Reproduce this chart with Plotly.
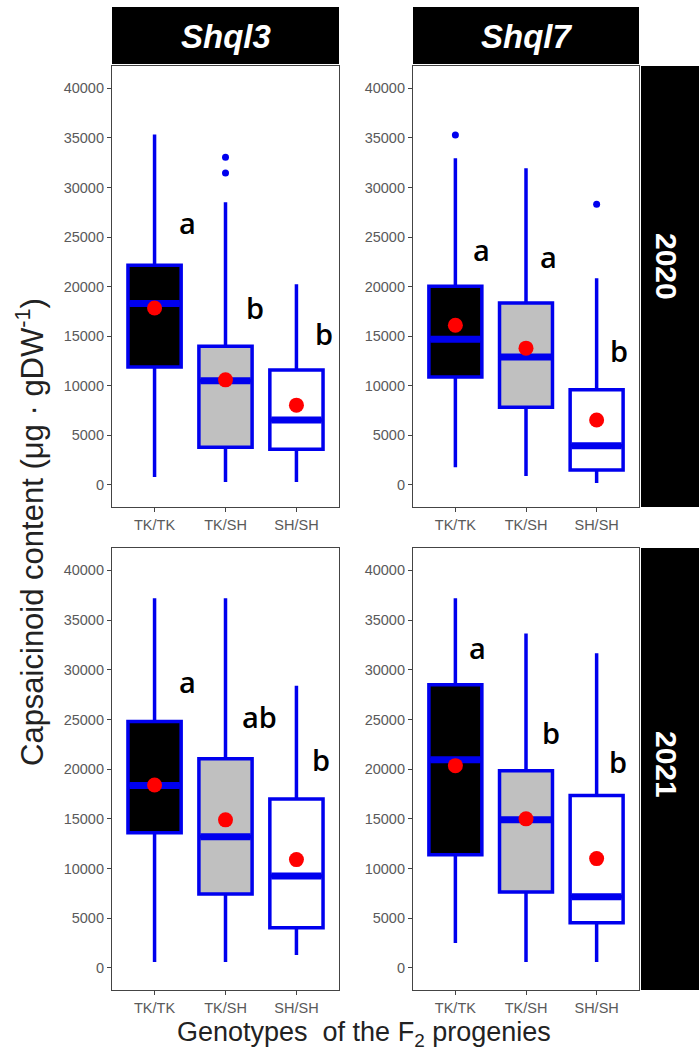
import plotly.graph_objects as go

# ---------------- data ----------------
categories = ["TK/TK", "TK/SH", "SH/SH"]
genes = ["Shql3", "Shql7"]
years = ["2020", "2021"]

# Shql3, 2020
shql3_2020_lower = [800, 300, 300]
shql3_2020_q1 = [11900, 3800, 3600]
shql3_2020_median = [18300, 10500, 6550]
shql3_2020_q3 = [22150, 14000, 11600]
shql3_2020_upper = [35350, 28500, 20250]
shql3_2020_mean = [17850, 10600, 8050]
shql3_2020_outliers = {"TK/SH": [33050, 31450]}
shql3_2020_letters = ["a", "b", "b"]
shql3_2020_letter_y = [26500, 17900, 15300]

# Shql7, 2020
shql7_2020_lower = [1800, 900, 200]
shql7_2020_q1 = [10900, 7850, 1500]
shql7_2020_median = [14700, 12900, 3950]
shql7_2020_q3 = [20050, 18350, 9600]
shql7_2020_upper = [32950, 31950, 20850]
shql7_2020_mean = [16100, 13800, 6550]
shql7_2020_outliers = {"TK/TK": [35300], "SH/SH": [28300]}
shql7_2020_letters = ["a", "a", "b"]
shql7_2020_letter_y = [23700, 23000, 13600]

# Shql3, 2021
shql3_2021_lower = [600, 600, 1300]
shql3_2021_q1 = [13600, 7450, 4050]
shql3_2021_median = [18350, 13200, 9250]
shql3_2021_q3 = [24800, 21050, 17000]
shql3_2021_upper = [37200, 37200, 28400]
shql3_2021_mean = [18400, 14900, 10900]
shql3_2021_outliers = {}
shql3_2021_letters = ["a", "ab", "b"]
shql3_2021_letter_y = [28800, 25300, 21000]

# Shql7, 2021
shql7_2021_lower = [2500, 600, 600]
shql7_2021_q1 = [11400, 7650, 4550]
shql7_2021_median = [20950, 14900, 7150]
shql7_2021_q3 = [28500, 19850, 17350]
shql7_2021_upper = [37200, 33650, 31650]
shql7_2021_mean = [20350, 15000, 11000]
shql7_2021_outliers = {}
shql7_2021_letters = ["a", "b", "b"]
shql7_2021_letter_y = [32250, 23700, 20750]

y_ticks = [0, 5000, 10000, 15000, 20000, 25000, 30000, 35000, 40000]

# ---------------- style / layout ----------------
W, H = 699, 1054
BLUE = "#0000ee"
RED = "#ff0000"
fills = ["#000000", "#c0c0c0", "#ffffff"]
box_w = 0.75

panels = [
    dict(gene="Shql3", year="2020", lower=shql3_2020_lower, q1=shql3_2020_q1, med=shql3_2020_median,
         q3=shql3_2020_q3, upper=shql3_2020_upper, mean=shql3_2020_mean, out=shql3_2020_outliers,
         letters=shql3_2020_letters, ly=shql3_2020_letter_y, px=(112, 339), py=(66, 507),
         lx=[0.46, 0.42, 0.39]),
    dict(gene="Shql7", year="2020", lower=shql7_2020_lower, q1=shql7_2020_q1, med=shql7_2020_median,
         q3=shql7_2020_q3, upper=shql7_2020_upper, mean=shql7_2020_mean, out=shql7_2020_outliers,
         letters=shql7_2020_letters, ly=shql7_2020_letter_y, px=(413, 639), py=(66, 507),
         lx=[0.37, 0.32, 0.32]),
    dict(gene="Shql3", year="2021", lower=shql3_2021_lower, q1=shql3_2021_q1, med=shql3_2021_median,
         q3=shql3_2021_q3, upper=shql3_2021_upper, mean=shql3_2021_mean, out=shql3_2021_outliers,
         letters=shql3_2021_letters, ly=shql3_2021_letter_y, px=(112, 339), py=(548, 990),
         lx=[0.46, 0.48, 0.34]),
    dict(gene="Shql7", year="2021", lower=shql7_2021_lower, q1=shql7_2021_q1, med=shql7_2021_median,
         q3=shql7_2021_q3, upper=shql7_2021_upper, mean=shql7_2021_mean, out=shql7_2021_outliers,
         letters=shql7_2021_letters, ly=shql7_2021_letter_y, px=(413, 639), py=(548, 990),
         lx=[0.32, 0.35, 0.30]),
]
strip_text_y = [266, 764]

fig = go.Figure()
annotations = []
shapes = []

tickfont = dict(family="Liberation Sans, Arial, sans-serif", size=14.5, color="#5a5a5a")

for k, p in enumerate(panels):
    n = k + 1
    xa = "x" if n == 1 else f"x{n}"
    ya = "y" if n == 1 else f"y{n}"
    for i, cat in enumerate(categories):
        fig.add_trace(go.Box(
            x=[i], q1=[p["q1"][i]], median=[p["med"][i]], q3=[p["q3"][i]],
            lowerfence=[p["lower"][i]], upperfence=[p["upper"][i]],
            width=box_w, whiskerwidth=0, boxpoints=False,
            fillcolor=fills[i], line=dict(color=BLUE, width=3.5),
            xaxis=xa, yaxis=ya, showlegend=False, hoverinfo="skip"))
        # thick median bar
        fig.add_trace(go.Scatter(
            x=[i - box_w / 2 + 0.02, i + box_w / 2 - 0.02], y=[p["med"][i], p["med"][i]],
            mode="lines", line=dict(color=BLUE, width=7), xaxis=xa, yaxis=ya,
            showlegend=False, hoverinfo="skip"))
        if cat in p["out"]:
            vals = p["out"][cat]
            fig.add_trace(go.Scatter(
                x=[i] * len(vals), y=vals, mode="markers",
                marker=dict(color=BLUE, size=7), xaxis=xa, yaxis=ya,
                showlegend=False, hoverinfo="skip"))
    fig.add_trace(go.Scatter(
        x=list(range(len(categories))), y=p["mean"], mode="markers",
        marker=dict(color=RED, size=15), xaxis=xa, yaxis=ya,
        showlegend=False, hoverinfo="skip"))
    for i, lt in enumerate(p["letters"]):
        annotations.append(dict(
            x=i + p["lx"][i], y=p["ly"][i], xref=xa, yref=ya, text=lt, showarrow=False,
            font=dict(family="Open Sans, Noto Sans, sans-serif", size=29, color="#000000",
                      weight=600),
            xanchor="center", yanchor="middle"))

    dom_x = [p["px"][0] / W, p["px"][1] / W]
    dom_y = [1 - p["py"][1] / H, 1 - p["py"][0] / H]
    axis_common = dict(showline=True, mirror=True, linecolor="#444444", linewidth=1.2,
                       ticks="outside", ticklen=4, tickcolor="#444444", tickwidth=1,
                       showgrid=False, zeroline=False, tickfont=tickfont)
    fig.layout[f"xaxis{'' if n == 1 else n}"] = dict(
        domain=dom_x, anchor=ya, range=[-0.6, 2.6],
        tickvals=list(range(len(categories))), ticktext=categories, **axis_common)
    fig.layout[f"yaxis{'' if n == 1 else n}"] = dict(
        domain=dom_y, anchor=xa, range=[-2220, 42250],
        tickvals=y_ticks, tickformat="d", **axis_common)

# column headers
for j, g in enumerate(genes):
    x0, x1 = panels[j]["px"]
    shapes.append(dict(type="rect", xref="paper", yref="paper",
                       x0=x0 / W, x1=x1 / W, y0=1 - 64 / H, y1=1 - 7 / H,
                       fillcolor="#000000", line=dict(width=0)))
    annotations.append(dict(x=(x0 + x1) / 2 / W, y=1 - 36 / H, xref="paper", yref="paper",
                            text=f"<b><i>{g}</i></b>", showarrow=False,
                            font=dict(family="Liberation Sans, Arial, sans-serif", size=33,
                                      color="#ffffff"),
                            xanchor="center", yanchor="middle"))

# row strips
for j, yr in enumerate(years):
    y0, y1 = panels[2 * j]["py"]
    shapes.append(dict(type="rect", xref="paper", yref="paper",
                       x0=641 / W, x1=1.0, y0=1 - y1 / H, y1=1 - y0 / H,
                       fillcolor="#000000", line=dict(width=0)))
    annotations.append(dict(x=667 / W, y=1 - strip_text_y[j] / H, xref="paper", yref="paper",
                            text=f"<b>{yr}</b>", showarrow=False, textangle=90,
                            font=dict(family="Liberation Sans, Arial, sans-serif", size=30,
                                      color="#ffffff"),
                            xanchor="center", yanchor="middle"))

# axis titles
annotations.append(dict(x=364 / W, y=1 - 1034 / H, xref="paper", yref="paper",
                        text="Genotypes  of the F<sub>2</sub> progenies", showarrow=False,
                        font=dict(family="Liberation Sans, Arial, sans-serif", size=27,
                                  color="#222222"),
                        xanchor="center", yanchor="middle"))
annotations.append(dict(x=30 / W, y=1 - 532 / H, xref="paper", yref="paper",
                        text="Capsaicinoid content (μg · gDW<sup>-1</sup>)", showarrow=False,
                        textangle=-90,
                        font=dict(family="Liberation Sans, Arial, sans-serif", size=31,
                                  color="#222222"),
                        xanchor="center", yanchor="middle"))

fig.update_layout(width=W, height=H, margin=dict(l=0, r=0, t=0, b=0),
                  paper_bgcolor="#ffffff", plot_bgcolor="#ffffff",
                  annotations=annotations, shapes=shapes, showlegend=False,
                  boxmode="overlay")

fig.write_html("out.html", config={"displayModeBar": False},
               post_script="document.body.style.margin='0';")
